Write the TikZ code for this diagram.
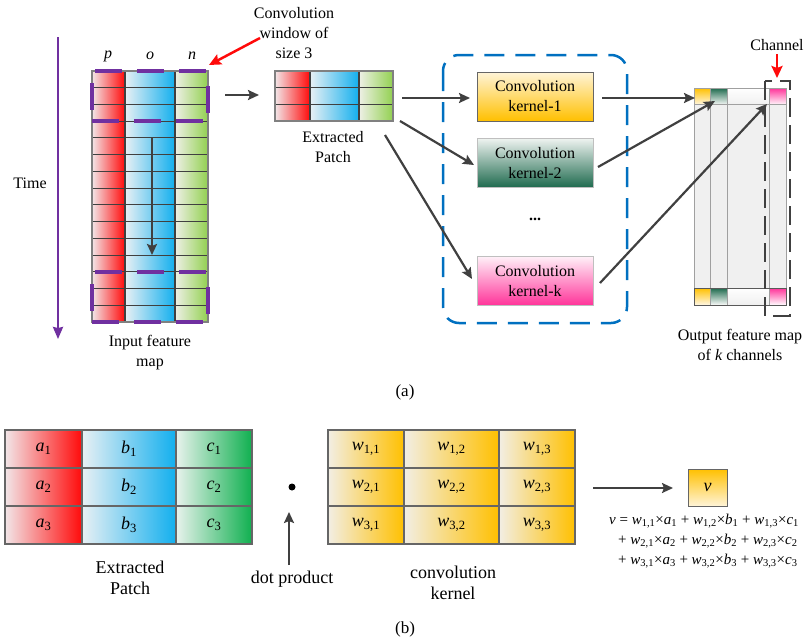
\documentclass[tikz,border=0pt]{standalone}
\usepackage{fontspec}
\setmainfont{Liberation Serif}
\usetikzlibrary{arrows.meta,calc}

% palette
\definecolor{cred}{HTML}{FF0A0A}
\definecolor{redL}{HTML}{F2E6E8}
\definecolor{cblue}{HTML}{12AFEE}
\definecolor{blueL}{HTML}{E8F0F4}
\definecolor{cgreenA}{HTML}{92D050}
\definecolor{greenAL}{HTML}{EEF0E6}
\definecolor{cgreenB}{HTML}{10B050}
\definecolor{greenBL}{HTML}{E8F2EC}
\definecolor{cyel}{HTML}{FFC000}
\definecolor{yelL}{HTML}{F2EEE4}
\definecolor{yelpale}{HTML}{FFF4D8}
\definecolor{gline}{HTML}{404040}
\definecolor{darr}{HTML}{404040}
\definecolor{cpurple}{HTML}{7030A0}
\definecolor{cblueD}{HTML}{0070C0}
\definecolor{kgreen}{HTML}{1E6A4E}
\definecolor{kgreenL}{HTML}{EEF3F0}
\definecolor{kpink}{HTML}{FF3399}
\definecolor{kpinkL}{HTML}{FFF0F8}
\definecolor{ogray}{HTML}{F0F0F0}
\definecolor{oline}{HTML}{A0A0A0}

\newcommand\sbs[2]{\textit{#1}\textsubscript{#2}}

\tikzset{
  gridln/.style={draw=gline, line width=1.1pt},
  arr/.style={draw=darr, line width=2.2pt, -{Stealth[length=11pt,width=10pt,inset=2pt]}},
  redarr/.style={draw=cred, line width=2.5pt, -{Stealth[length=12pt,width=11pt,inset=2pt]}},
  timearr/.style={draw=cpurple, line width=2.2pt, -{Stealth[length=12pt,width=10pt,inset=1pt]}},
  win/.style={draw=cpurple, line width=3.4pt, dash pattern=on 27pt off 15pt},
  kbox/.style={minimum width=116pt, minimum height=49pt, inner sep=0pt, align=center, draw=#1, line width=0.9pt},
  lbl/.style={align=center, inner sep=0pt},
  big/.style={font=\fontsize{18}{21}\selectfont},
}

% dashed sliding window over three rows, top edge at #1
\newcommand\slidewin[1]{%
  \draw[win, dash phase=39pt] (92,#1) -- (208,#1);
  \draw[win] (92,#1+50) -- (208,#1+50);
  \draw[win, dash phase=30pt] (92,#1) -- (92,#1+50);
  \draw[win, dash phase=27pt] (208,#1) -- (208,#1+50);}

\begin{document}
\begin{tikzpicture}[x=1pt,y=-1pt,font=\fontsize{16}{20}\selectfont]
\useasboundingbox (0,0) rectangle (806,643);

% ---------- (a) ----------
% time axis
\coordinate (tTop) at (58,37);
\coordinate (tBot) at (58,339);
\draw[timearr] (tTop) -- (tBot);
\node[lbl] (timelbl) at (30,183) {Time};

% input feature map
\fill[left color=redL, right color=cred] (92,71) rectangle (125,322);
\fill[left color=blueL, right color=cblue] (125,71) rectangle (175,322);
\fill[left color=greenAL, right color=cgreenA] (175,71) rectangle (208,322);
\foreach \i in {1,...,14} \draw[gridln] (92,{71+\i*251/15}) -- (208,{71+\i*251/15});
\draw[gridln] (125,71) -- (125,322) (175,71) -- (175,322);
\draw[draw=gray, line width=1.1pt] (92,71) rectangle (208,322);
\node[lbl] (lp) at (108,56) {\textit{p}};
\node[lbl] (lo) at (150,56) {\textit{o}};
\node[lbl] (ln) at (192,56) {\textit{n}};
\slidewin{71}
\slidewin{272}
\coordinate (slideA) at (152,137);
\coordinate (slideB) at (152,255);
\draw[arr] (slideA) -- (slideB);
\node[lbl] (inlbl) at (150,353) {Input feature\\map};

% window label
\node[lbl] (winlbl) at (294,33) {Convolution\\window of\\size 3};
\coordinate (winarrS) at (260,38);
\coordinate (winarrE) at (209,65);
\draw[redarr] (winarrS) -- (winarrE);

% extracted patch
\coordinate (inOut) at (225,95);
\coordinate (ptIn) at (259,95);
\draw[arr] (inOut) -- (ptIn);
\fill[left color=redL, right color=cred] (275,71) rectangle (310,121);
\fill[left color=blueL, right color=cblue] (310,71) rectangle (359,121);
\fill[left color=greenAL, right color=cgreenA] (359,71) rectangle (393,121);
\draw[gridln] (275,{71+50/3}) -- (393,{71+50/3}) (275,{71+100/3}) -- (393,{71+100/3});
\draw[gridln] (310,71) -- (310,121) (359,71) -- (359,121);
\draw[draw=gray, line width=1.1pt] (275,71) rectangle (393,121);
\node[lbl] (ptlbl) at (333,147) {Extracted\\Patch};

% kernel group
\draw[draw=cblueD, line width=2.5pt, dash pattern=on 20pt off 11pt, rounded corners=16pt]
  (443,55) rectangle (627,323);
\node[kbox=gray!80!black, top color=yelpale, bottom color=cyel] (k1) at (535,96.5) {Convolution\\kernel-1};
\node[kbox=gray!50, top color=kgreenL, bottom color=kgreen] (k2) at (535,163) {Convolution\\kernel-2};
\node[lbl, font=\fontsize{16}{20}\selectfont\bfseries] (dots) at (535,219) {...};
\node[kbox=gray!50, top color=kpinkL, bottom color=kpink] (kk) at (535,281) {Convolution\\kernel-k};

\coordinate (ptO1) at (402,98);
\coordinate (ptO2) at (400,121);
\coordinate (ptOk) at (385,135);
\coordinate (k1in) at (470,98);
\coordinate (k2in) at (474,165);
\coordinate (kkin) at (472,279);
\draw[arr] (ptO1) -- (k1in);
\draw[arr] (ptO2) -- (k2in);
\draw[arr] (ptOk) -- (kkin);

% output feature map
\fill[ogray] (694,88) rectangle (786,305);
\foreach \y in {88,288}{
  \fill[top color=cyel, bottom color=yelpale] (694,\y) rectangle (710,\y+16);
  \fill[top color=kgreen, bottom color=kgreenL] (710,\y) rectangle (727,\y+16);
  \fill[top color=white, bottom color=ogray] (727,\y) rectangle (769,\y+16);
  \fill[top color=kpink, bottom color=kpinkL] (769,\y) rectangle (786,\y+16);
}
\draw[draw=oline, line width=0.9pt] (710,88) -- (710,305) (727,88) -- (727,305) (769,88) -- (769,305);
\draw[draw=oline, line width=0.9pt] (694,104) -- (786,104);
\draw[draw=gray!70!black, line width=0.9pt] (694,288) -- (786,288);
\draw[draw=oline, line width=0.9pt] (694,88) rectangle (786,305);
\draw[draw=gray!70!black, line width=0.9pt] (694,288) rectangle (786,305);

\coordinate (k1out) at (602,98);
\coordinate (k2out) at (598,167);
\coordinate (kkout) at (600,283);
\coordinate (o1) at (695,98);
\coordinate (o2) at (715,101);
\coordinate (ok) at (767,104);
\draw[arr] (k1out) -- (o1);
\draw[arr] (k2out) -- (o2);
\draw[arr] (kkout) -- (ok);

% channel marker
\draw[draw=darr, line width=2.2pt, dash pattern=on 19pt off 8pt] (765,81) rectangle (790,316);
\node[lbl] (chlbl) at (777,45) {Channel};
\coordinate (chS) at (777,54);
\coordinate (chE) at (777,78);
\draw[redarr] (chS) -- (chE);
\node[lbl] (outlbl) at (740,345) {Output feature map\\of \textit{k} channels};

\node[lbl, font=\fontsize{17}{20}\selectfont] (capa) at (405,392) {(a)};

% ---------- (b) ----------
\begin{scope}[big]
% patch
\fill[left color=redL, right color=cred] (5,430) rectangle (82,544);
\fill[left color=blueL, right color=cblue] (82,430) rectangle (176,544);
\fill[left color=greenBL, right color=cgreenB] (176,430) rectangle (252,544);
\draw[draw=gray!80!black, line width=1.1pt] (5,468) -- (252,468) (5,506) -- (252,506)
  (82,430) -- (82,544) (176,430) -- (176,544);
\draw[draw=gray!80!black, line width=1.1pt] (5,430) rectangle (252,544);
\foreach \n/\x in {a/43.5,b/129,c/214}
  \foreach \r/\y in {1/449,2/487,3/525}
    \node[lbl] (\n\r) at (\x,\y) {\sbs{\n}{\r}};
\node[lbl] (bptlbl) at (130,578) {Extracted\\Patch};

% dot product
\fill (292,487) circle (3.5pt);
\coordinate (dpS) at (289,565);
\coordinate (dpE) at (289,512);
\draw[arr] (dpS) -- (dpE);
\node[lbl] (dplbl) at (292,579) {dot product};

% kernel weights
\foreach \xa/\xb in {328/404,404/499,499/575}
  \fill[left color=yelL, right color=cyel] (\xa,430) rectangle (\xb,544);
\draw[draw=gray!80!black, line width=1.1pt] (328,468) -- (575,468) (328,506) -- (575,506)
  (404,430) -- (404,544) (499,430) -- (499,544);
\draw[draw=gray!80!black, line width=1.1pt] (328,430) rectangle (575,544);
\foreach \c/\x in {1/366,2/451.5,3/537}
  \foreach \r/\y in {1/449,2/487,3/525}
    \node[lbl] (w\r\c) at (\x,\y) {\sbs{w}{\r,\c}};
\node[lbl] (wlbl) at (453,583) {convolution\\kernel};

% result
\coordinate (resS) at (593,488);
\coordinate (resE) at (673,488);
\draw[arr] (resS) -- (resE);
\node[minimum width=39pt, minimum height=37pt, inner sep=0pt, draw=gray!80!black, line width=0.9pt,
  top color=cyel, bottom color=yelpale] (vbox) at (707.5,487.5) {\textit{v}};
\end{scope}

% weighted sum written out
\begin{scope}[font=\fontsize{15}{20}\selectfont]
\node[anchor=west, inner sep=0pt] (f1) at (609,521)
  {\textit{v} = \sbs{w}{1,1}×\sbs{a}{1} + \sbs{w}{1,2}×\sbs{b}{1} + \sbs{w}{1,3}×\sbs{c}{1}};
\node[anchor=west, inner sep=0pt] (f2) at (618,541)
  {+ \sbs{w}{2,1}×\sbs{a}{2} + \sbs{w}{2,2}×\sbs{b}{2} + \sbs{w}{2,3}×\sbs{c}{2}};
\node[anchor=west, inner sep=0pt] (f3) at (618,561)
  {+ \sbs{w}{3,1}×\sbs{a}{3} + \sbs{w}{3,2}×\sbs{b}{3} + \sbs{w}{3,3}×\sbs{c}{3}};
\end{scope}

\node[lbl, font=\fontsize{17}{20}\selectfont] (capb) at (405,629) {(b)};
\end{tikzpicture}
\end{document}
